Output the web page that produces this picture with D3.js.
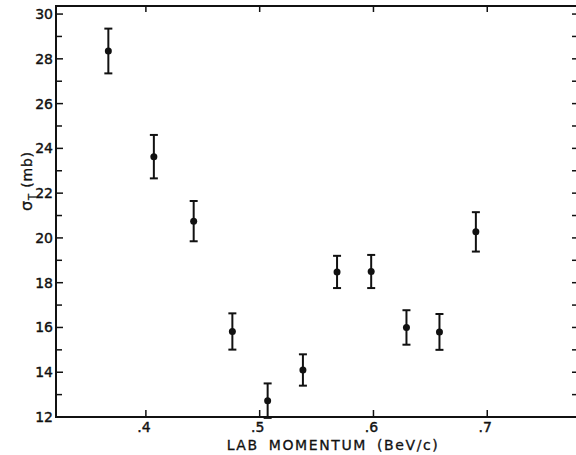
<!DOCTYPE html>
<html lang="en">
<head>
  <meta charset="UTF-8" />
  <title>Total cross section vs lab momentum</title>
  <script src="https://d3js.org/d3.v7.min.js"></script>
  <style>
    body {
      margin: 0;
      padding: 0;
      background: #fff;
    }
    svg {
      display: block;
      font-family: "DejaVu Sans", sans-serif;
    }
    .tick-label {
      font-size: 14px;
      fill: #111;
      stroke: #111;
      stroke-width: 0.4px;
    }
    .axis-title {
      font-size: 14px;
      fill: #111;
      stroke: #111;
      stroke-width: 0.3px;
    }
  </style>
</head>
<body>
  <svg width="576" height="455"></svg>

  <script>
    // lab momentum (BeV/c), total cross section (mb) and its error
    const momentum = [0.367, 0.407, 0.442, 0.476, 0.507, 0.538, 0.568, 0.598, 0.629, 0.658, 0.690];
    const sigmaT = [28.35, 23.63, 20.75, 15.82, 12.73, 14.1, 18.48, 18.5, 16.0, 15.8, 20.27];
    const sigmaErr = [1.0, 0.97, 0.9, 0.81, 0.77, 0.7, 0.72, 0.74, 0.77, 0.8, 0.88];

    const xTicks = [0.4, 0.5, 0.6, 0.7];
    const xTickLabels = [".4", ".5", ".6", ".7"];
    const yMajor = [12, 14, 16, 18, 20, 22, 24, 26, 28, 30];
    const yMinor = [13, 15, 17, 19, 21, 23, 25, 27, 29];
    const yRight = d3.range(12, 31);

    const points = momentum.map((p, i) => ({ p, s: sigmaT[i], e: sigmaErr[i] }));

    const svg = d3.select("svg");
    const ink = "#111";

    const plotL = 56, plotR = 576, plotT = 6, plotB = 417;

    const x = d3.scaleLinear().domain([0.321, 0.778]).range([plotL, plotR]);
    const y = d3.scaleLinear().domain([12, 30.36]).range([plotB, plotT]);

    // frame: left, top and bottom lines
    svg.append("path")
      .attr("d", `M${plotR},${plotT}H${plotL}V${plotB}H${plotR}`)
      .attr("fill", "none")
      .attr("stroke", ink)
      .attr("stroke-width", 2);

    // left axis ticks (inward) and labels
    svg.selectAll(".ymaj")
      .data(yMajor)
      .enter().append("line")
      .attr("x1", plotL).attr("x2", plotL + 7)
      .attr("y1", d => y(d)).attr("y2", d => y(d))
      .attr("stroke", ink).attr("stroke-width", 1.5);

    svg.selectAll(".ymin")
      .data(yMinor)
      .enter().append("line")
      .attr("x1", plotL).attr("x2", plotL + 6)
      .attr("y1", d => y(d)).attr("y2", d => y(d))
      .attr("stroke", ink).attr("stroke-width", 1.5);

    svg.selectAll(".ylab")
      .data(yMajor)
      .enter().append("text")
      .attr("class", "tick-label")
      .attr("x", plotL - 3)
      .attr("y", d => y(d) + 5)
      .attr("text-anchor", "end")
      .text(d => d);

    // right edge ticks, one per mb
    svg.selectAll(".yr")
      .data(yRight)
      .enter().append("line")
      .attr("x1", plotR - 4).attr("x2", plotR)
      .attr("y1", d => y(d)).attr("y2", d => y(d))
      .attr("stroke", ink).attr("stroke-width", 1.5);

    // bottom and top ticks
    svg.selectAll(".xb")
      .data(xTicks)
      .enter().append("line")
      .attr("x1", d => x(d)).attr("x2", d => x(d))
      .attr("y1", plotB).attr("y2", plotB - 7)
      .attr("stroke", ink).attr("stroke-width", 1.5);

    svg.selectAll(".xt")
      .data(xTicks)
      .enter().append("line")
      .attr("x1", d => x(d)).attr("x2", d => x(d))
      .attr("y1", plotT).attr("y2", plotT + 6)
      .attr("stroke", ink).attr("stroke-width", 1.5);

    svg.selectAll(".xlab")
      .data(xTicks)
      .enter().append("text")
      .attr("class", "tick-label")
      .attr("x", d => x(d) - 2)
      .attr("y", plotB + 15)
      .attr("text-anchor", "middle")
      .text((d, i) => xTickLabels[i]);

    svg.append("text")
      .attr("class", "axis-title")
      .attr("x", 333)
      .attr("y", 450)
      .attr("text-anchor", "middle")
      .attr("letter-spacing", "1.6px")
      .attr("word-spacing", "4px")
      .text("LAB MOMENTUM (BeV/c)");

    const yTitle = svg.append("text")
      .attr("class", "axis-title")
      .attr("transform", "translate(32,181) rotate(-90)")
      .attr("text-anchor", "middle")
      .attr("letter-spacing", "0.8px");
    yTitle.append("tspan").attr("font-size", "16px").text("σ");
    yTitle.append("tspan").attr("font-size", "10px").attr("dy", 4).text("T");
    yTitle.append("tspan").attr("dy", -4).text(" (mb)");

    // error bars with caps
    const bars = svg.selectAll(".err")
      .data(points)
      .enter().append("g")
      .attr("stroke", ink)
      .attr("stroke-width", 2);

    bars.append("line")
      .attr("x1", d => x(d.p)).attr("x2", d => x(d.p))
      .attr("y1", d => y(d.s + d.e)).attr("y2", d => y(d.s - d.e));
    bars.append("line")
      .attr("x1", d => x(d.p) - 4).attr("x2", d => x(d.p) + 4)
      .attr("y1", d => y(d.s + d.e)).attr("y2", d => y(d.s + d.e));
    bars.append("line")
      .attr("x1", d => x(d.p) - 4).attr("x2", d => x(d.p) + 4)
      .attr("y1", d => y(d.s - d.e)).attr("y2", d => y(d.s - d.e));

    svg.selectAll(".pt")
      .data(points)
      .enter().append("circle")
      .attr("cx", d => x(d.p))
      .attr("cy", d => y(d.s))
      .attr("r", 3.5)
      .attr("fill", ink);
  </script>
</body>
</html>
